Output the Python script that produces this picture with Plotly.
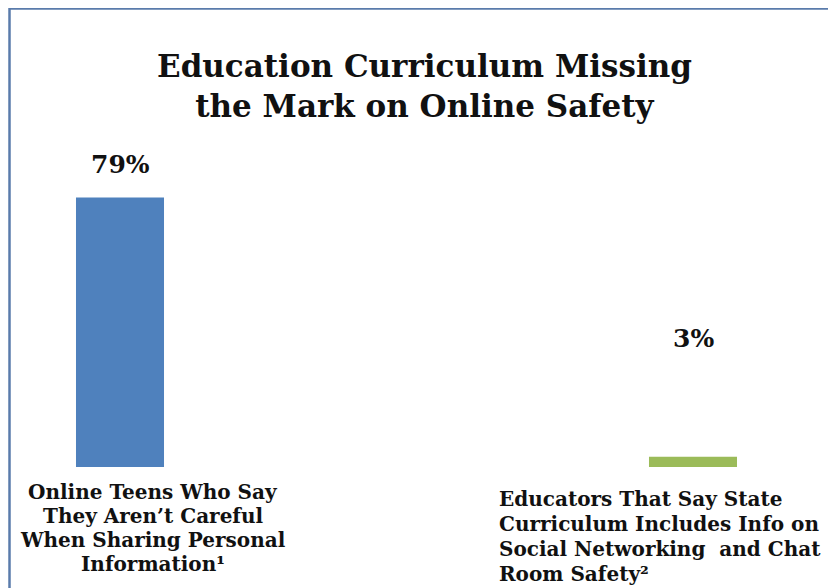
import plotly.graph_objects as go

category_lines = [
    ["Online Teens Who Say", "They Aren’t Careful", "When Sharing Personal", "Information¹"],
    ["Educators That Say State", "Curriculum Includes Info on", "Social Networking  and Chat", "Room Safety²"],
]
values = [79, 3]
colors = ["#4f81bd", "#9bbb59"]
title_text = "Education Curriculum Missing<br>the Mark on Online Safety"

W, H = 836, 588
ML, MR, MT, MB = 12, 10, 118, 129
PW, PH = W - ML - MR, H - MT - MB

def px(x):
    return (x - ML) / PW

def py(y):
    return 1 - (y - MT) / PH

FONT = "DejaVu Serif"

fig = go.Figure()
fig.add_trace(go.Bar(x=[0, 1], y=values, width=0.1536,
                     marker=dict(color=colors, line=dict(width=0)),
                     hoverinfo="skip"))

ann = []
# title
ann.append(dict(text="<b>" + title_text + "</b>", x=px(416), y=py(38), xref="paper", yref="paper",
                xanchor="center", yanchor="top", showarrow=False,
                font=dict(family=FONT, size=31, color="#111111")))
# value labels
label_y = [88.6, 37.8]
for i, v in enumerate(values):
    ann.append(dict(text=f"<b>{v}%</b>", x=i, y=label_y[i], xref="x", yref="y",
                    xanchor="center", yanchor="middle", showarrow=False,
                    font=dict(family=FONT, size=25, color="#111111")))
# category labels (one annotation per line for tight line spacing)
label_cfg = [dict(x=145, y0=470, pitch=24, xanchor="center"),
             dict(x=489, y0=477, pitch=25, xanchor="left")]
for lines, cfg in zip(category_lines, label_cfg):
    for k, line in enumerate(lines):
        ann.append(dict(text="<b>" + line + "</b>", x=px(cfg["x"]), y=py(cfg["y0"] + k * cfg["pitch"]),
                        xref="paper", yref="paper", xanchor=cfg["xanchor"], yanchor="top",
                        showarrow=False, font=dict(family=FONT, size=20, color="#111111")))

shapes = [
    dict(type="line", xref="paper", yref="paper", x0=px(1), x1=px(840), y0=py(0.5), y1=py(0.5),
         line=dict(color="#5a7bab", width=2.5)),
    dict(type="line", xref="paper", yref="paper", x0=px(1.5), x1=px(1.5), y0=py(0), y1=py(600),
         line=dict(color="#5a7bab", width=2.5)),
]

fig.update_layout(
    width=W, height=H,
    margin=dict(l=ML, r=MR, t=MT, b=MB),
    paper_bgcolor="white", plot_bgcolor="white",
    showlegend=False,
    xaxis=dict(range=[-100 / 573, 1 + 141 / 573], visible=False, fixedrange=True),
    yaxis=dict(range=[0, 100], visible=False, fixedrange=True),
    annotations=ann,
    shapes=shapes,
)

fig.write_html("out.html")
